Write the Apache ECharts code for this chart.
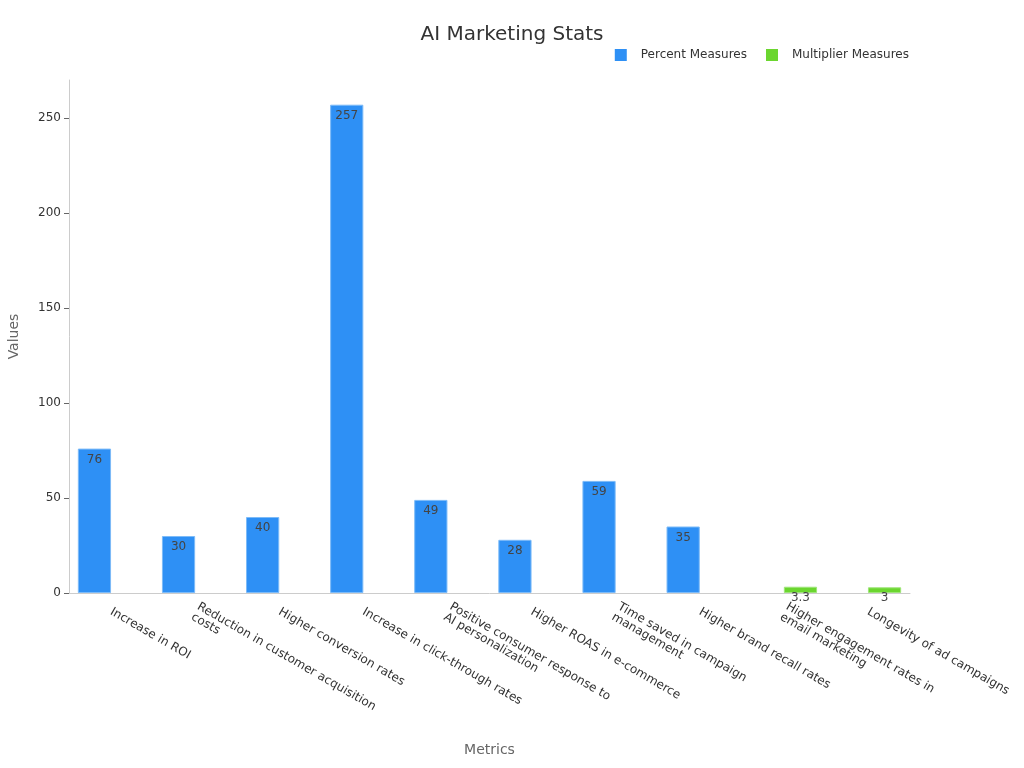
<!DOCTYPE html>
<html>
<head>
<meta charset="utf-8">
<script src="https://cdn.jsdelivr.net/npm/echarts@6/dist/echarts.min.js"></script>
<style>
  html, body { margin: 0; padding: 0; background: #fff; }
  #chart { width: 1024px; height: 768px; }
</style>
</head>
<body>
<div id="chart"></div>
<script>
// categories on the x axis
const categories = [
  "Increase in ROI",
  "Reduction in customer acquisition\ncosts",
  "Higher conversion rates",
  "Increase in click-through rates",
  "Positive consumer response to\nAI personalization",
  "Higher ROAS in e-commerce",
  "Time saved in campaign\nmanagement",
  "Higher brand recall rates",
  "Higher engagement rates in\nemail marketing",
  "Longevity of ad campaigns"
];
// percent metrics (null where the metric is a multiplier)
const percentValues = [76, 30, 40, 257, 49, 28, 59, 35, null, null];
// multiplier metrics
const multiplierValues = [null, null, null, null, null, null, null, null, 3.3, 3];

const chartDom = document.getElementById("chart");
const myChart = echarts.init(chartDom);

const font = "DejaVu Sans";
const labelStyle = {
  show: true,
  position: "insideTop",
  color: "#444",
  fontSize: 12,
  fontFamily: font
};

const option = {
  animation: false,
  textStyle: { fontFamily: font },
  title: {
    text: "AI Marketing Stats",
    left: "center",
    top: 20,
    textStyle: { fontSize: 20, fontWeight: "normal", color: "#333", fontFamily: font }
  },
  legend: {
    top: 44,
    right: 110,
    icon: "rect",
    itemWidth: 12,
    itemHeight: 12,
    itemGap: 19,
    itemStyle: { borderWidth: 0 },
    textStyle: { fontSize: 12, color: "#333", fontFamily: font, padding: [0, 0, 0, 9] },
    data: ["Percent Measures", "Multiplier Measures"]
  },
  grid: { left: 69, right: 114, top: 80, bottom: 175, outerBoundsMode: "none" },
  xAxis: {
    type: "category",
    data: categories,
    name: "Metrics",
    nameLocation: "middle",
    nameGap: 150,
    nameTextStyle: { fontSize: 14, color: "#666", fontFamily: font },
    axisLine: { lineStyle: { color: "#ccc" } },
    axisTick: { lineStyle: { color: "#666" } },
    axisLabel: { rotate: -30, interval: 0, color: "#333", fontSize: 12, fontFamily: font, margin: 18 }
  },
  yAxis: {
    type: "value",
    min: 0,
    max: 270,
    interval: 50,
    name: "Values",
    nameLocation: "middle",
    nameGap: 48,
    nameTextStyle: { fontSize: 14, color: "#666", fontFamily: font },
    axisLine: { show: true, lineStyle: { color: "#ccc" } },
    axisTick: { show: true, lineStyle: { color: "#666" } },
    axisLabel: { color: "#333", fontSize: 12, fontFamily: font, showMaxLabel: false },
    splitLine: { show: false }
  },
  series: [
    {
      name: "Percent Measures",
      type: "bar",
      data: percentValues,
      barGap: "0%",
      barCategoryGap: "21%",
      itemStyle: { color: "#2e90f5", borderColor: "#7dbbf8", borderWidth: 1 },
      label: labelStyle
    },
    {
      name: "Multiplier Measures",
      type: "bar",
      data: multiplierValues,
      itemStyle: { color: "#6bd62f", borderColor: "#9fe57a", borderWidth: 1 },
      label: labelStyle
    }
  ]
};

option && myChart.setOption(option);
</script>
</body>
</html>
